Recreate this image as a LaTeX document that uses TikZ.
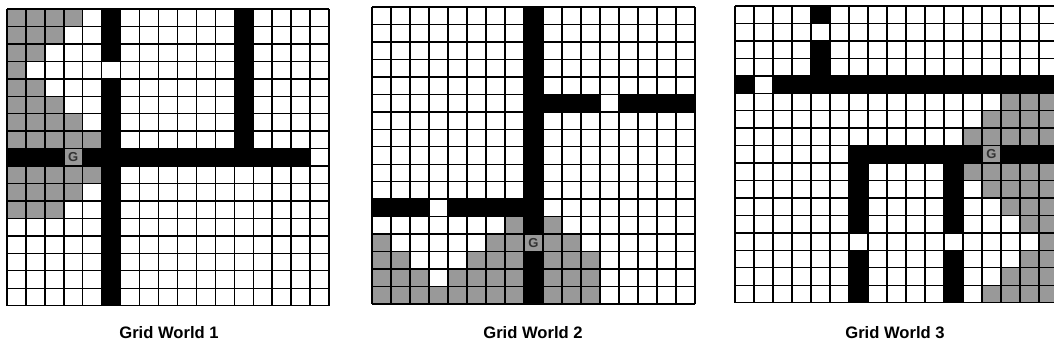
\documentclass[tikz,border=0pt]{standalone}
\usepackage{fontspec}
\setmainfont{Liberation Sans}
\definecolor{cellgray}{RGB}{153,153,153}
\tikzset{
  gl/.style={line width=1.4bp, black},
  wall/.style={fill=black},
  visited/.style={fill=cellgray},
  glab/.style={font=\bfseries\fontsize{13bp}{13bp}\selectfont, text=black!80, inner sep=0pt},
  caplab/.style={font=\bfseries\fontsize{16.6bp}{16.6bp}\selectfont, inner sep=0pt}
}
\newcommand{\gridlines}{%
  \foreach \i in {0,...,17} {
    \draw[gl] (\i,0) -- (\i,17);
    \draw[gl] (0,\i) -- (17,\i);
  }%
}
\begin{document}
\begin{tikzpicture}[x=1bp,y=-1bp]
\useasboundingbox (0,0) rectangle (1054,352);
\clip (0,0) rectangle (1054,352);
\fill[white] (0,0) rectangle (1054,352);

% ---------- Grid World 1 ----------
\begin{scope}[shift={(7,9)},x=18.94bp,y=-17.45bp]
  \fill[visited] (0,0) rectangle (4,1);
  \fill[visited] (0,1) rectangle (3,2);
  \fill[visited] (0,2) rectangle (2,3);
  \fill[visited] (0,3) rectangle (1,4);
  \fill[visited] (0,4) rectangle (2,5);
  \fill[visited] (0,5) rectangle (3,6);
  \fill[visited] (0,6) rectangle (4,7);
  \fill[visited] (0,7) rectangle (5,8);
  \fill[visited] (3,8) rectangle (4,9);
  \fill[visited] (0,9) rectangle (5,10);
  \fill[visited] (0,10) rectangle (4,11);
  \fill[visited] (0,11) rectangle (3,12);
  \gridlines
  \fill[wall] (5,0) rectangle (6,3);
  \fill[wall] (5,4) rectangle (6,17);
  \fill[wall] (12,0) rectangle (13,8);
  \fill[wall] (0,8) rectangle (3,9);
  \fill[wall] (4,8) rectangle (16,9);
  \node[glab] (g1) at (3.5,8.5) {G};
\end{scope}

% ---------- Grid World 2 ----------
\begin{scope}[shift={(372,7)},x=19bp,y=-17.47bp]
  \fill[visited] (7,12) rectangle (8,13);
  \fill[visited] (9,12) rectangle (10,13);
  \fill[visited] (0,13) rectangle (1,14);
  \fill[visited] (6,13) rectangle (11,14);
  \fill[visited] (0,14) rectangle (2,15);
  \fill[visited] (5,14) rectangle (8,15);
  \fill[visited] (9,14) rectangle (12,15);
  \fill[visited] (0,15) rectangle (3,16);
  \fill[visited] (4,15) rectangle (8,16);
  \fill[visited] (9,15) rectangle (12,16);
  \fill[visited] (0,16) rectangle (8,17);
  \fill[visited] (9,16) rectangle (12,17);
  \gridlines
  \fill[wall] (8,0) rectangle (9,13);
  \fill[wall] (8,14) rectangle (9,17);
  \fill[wall] (9,5) rectangle (12,6);
  \fill[wall] (13,5) rectangle (17,6);
  \fill[wall] (0,11) rectangle (3,12);
  \fill[wall] (4,11) rectangle (8,12);
  \node[glab] (g2) at (8.5,13.5) {G};
\end{scope}

% ---------- Grid World 3 ----------
\begin{scope}[shift={(735,6)},x=19bp,y=-17.45bp]
  \fill[visited] (14,5) rectangle (17,6);
  \fill[visited] (13,6) rectangle (17,7);
  \fill[visited] (12,7) rectangle (17,8);
  \fill[visited] (13,8) rectangle (14,9);
  \fill[visited] (12,9) rectangle (17,10);
  \fill[visited] (13,10) rectangle (17,11);
  \fill[visited] (14,11) rectangle (17,12);
  \fill[visited] (15,12) rectangle (17,13);
  \fill[visited] (16,13) rectangle (17,14);
  \fill[visited] (15,14) rectangle (17,15);
  \fill[visited] (14,15) rectangle (17,16);
  \fill[visited] (13,16) rectangle (17,17);
  \gridlines
  \fill[wall] (4,0) rectangle (5,1);
  \fill[wall] (4,2) rectangle (5,4);
  \fill[wall] (0,4) rectangle (1,5);
  \fill[wall] (2,4) rectangle (17,5);
  \fill[wall] (6,8) rectangle (13,9);
  \fill[wall] (14,8) rectangle (17,9);
  \fill[wall] (6,9) rectangle (7,13);
  \fill[wall] (6,14) rectangle (7,17);
  \fill[wall] (11,9) rectangle (12,13);
  \fill[wall] (11,14) rectangle (12,17);
  \node[glab] (g3) at (13.5,8.5) {G};
\end{scope}

% ---------- Captions ----------
\node[caplab] (cap1) at (169,333) {Grid World 1};
\node[caplab] (cap2) at (533,333) {Grid World 2};
\node[caplab] (cap3) at (895,333) {Grid World 3};
\end{tikzpicture}
\end{document}
